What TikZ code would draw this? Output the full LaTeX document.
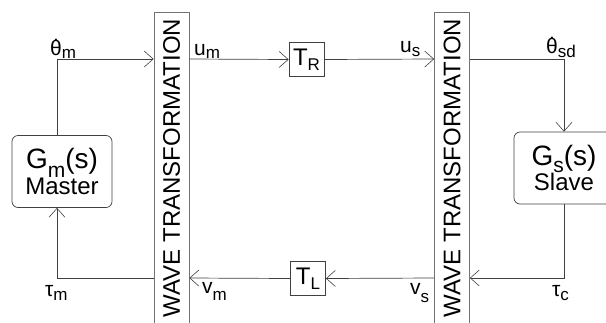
\documentclass[tikz,border=0pt]{standalone}
\usepackage{fontspec}
\setmainfont{Liberation Sans}
\usetikzlibrary{arrows.meta}
\newcommand\lo[2]{{\raisebox{-#1}{\fontsize{17}{17}\selectfont #2}}}
\newcommand\thd{\ooalign{θ\cr\hidewidth\raisebox{0.62em}{.}\hidewidth\cr}}
\definecolor{ln}{gray}{0.25}
\definecolor{bx}{gray}{0.45}
\tikzset{
  arr/.style={draw=ln, line width=0.7pt, -{Straight Barb[length=9pt,width=16pt,line width=0.6pt]}},
  ln/.style={draw=ln, line width=0.7pt},
  lab/.style={anchor=base west, inner sep=0pt, font=\fontsize{21}{21}\selectfont},
  wt/.style={draw=bx, line width=0.7pt, minimum width=35pt, minimum height=312pt, inner sep=0pt},
  tbox/.style={draw=ln, line width=0.7pt, minimum width=35pt, minimum height=34pt, inner sep=0pt, font=\fontsize{24}{24}\selectfont},
  gbox/.style={draw=ln, line width=0.7pt, rounded corners=6pt, minimum width=100pt, minimum height=72pt, inner sep=0pt, align=center}
}
\begin{document}
\begin{tikzpicture}[x=1pt,y=-1pt]
\useasboundingbox (0,0) rectangle (606,322);
\clip (0,0) rectangle (606,322);
% wave transformation blocks
\node[wt] (wtl) at (171.5,168) {\rotatebox{90}{\fontsize{24}{24}\selectfont WAVE TRANSFORMATION}};
\node[wt] (wtr) at (452,168) {\rotatebox{90}{\fontsize{24}{24}\selectfont WAVE TRANSFORMATION}};
% delay blocks
\node[tbox] (tr) at (306.5,59.5) {T\lo{5pt}{R}};
\node[tbox] (tl) at (308,278.5) {T\lo{5pt}{L}};
% master / slave
\node[gbox] (gm) at (62,171.5) {{\fontsize{28}{28}\selectfont G\raisebox{-9pt}{\fontsize{21}{21}\selectfont m}(s)}\\[-1pt]{\fontsize{24}{24}\selectfont Master}};
\node[gbox] (gs) at (564,168) {{\fontsize{28}{28}\selectfont G\raisebox{-7pt}{\fontsize{21}{21}\selectfont s}(s)}\\[-1pt]{\fontsize{24}{24}\selectfont Slave}};
% corner coordinates
\coordinate (jm) at (57,59);
\coordinate (jmb) at (57,278);
\coordinate (js) at (564,59);
\coordinate (jsb) at (564,278);
% connectors
\draw[arr] (gm.north -| jm) -- (jm) -- (wtl.west |- jm);
\draw[arr] (wtl.east |- jm) -- (tr.west);
\draw[arr] (tr.east) -- (wtr.west |- jm);
\draw[arr] (wtr.east |- js) -- (js) -- (gs.north -| js);
\draw[arr] (gs.south -| jsb) -- (jsb) -- (wtr.east |- jsb);
\draw[arr] (wtr.west |- jsb) -- (tl.east);
\draw[arr] (tl.west) -- (wtl.east |- jmb);
\draw[arr] (wtl.west |- jmb) -- (jmb) -- (gm.south -| jmb);
% labels
\node[lab] (lthm) at (50,55) {\thd\lo{3pt}{m}};
\node[lab] (lum) at (194,55) {u\lo{3pt}{m}};
\node[lab] (lus) at (400,52) {u\lo{4pt}{s}};
\node[lab] (lthsd) at (546,53) {\thd\lo{4pt}{sd}};
\node[lab] (ltaum) at (45,296) {τ\lo{4pt}{m}};
\node[lab] (lvm) at (202,293) {v\lo{7pt}{m}};
\node[lab] (lvs) at (410,294) {v\lo{8pt}{s}};
\node[lab] (ltauc) at (552,296) {τ\lo{4pt}{c}};
\end{tikzpicture}
\end{document}
